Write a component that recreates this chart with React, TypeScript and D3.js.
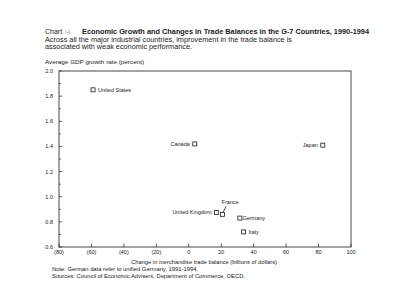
import React from "react";
import * as d3 from "d3";

const countries = ["United States", "Canada", "Japan", "United Kingdom", "France", "Germany", "Italy"];
const tradeChange = [-59, 3.7, 82.6, 17.1, 20.8, 31.5, 33.8];
const gdpGrowth = [1.85, 1.42, 1.41, 0.875, 0.86, 0.83, 0.72];
const labelSide = ["right", "left", "left", "left", "top", "right", "right"];

const xTicks = [-80, -60, -40, -20, 0, 20, 40, 60, 80, 100];
const yTicks = [0.6, 0.8, 1.0, 1.2, 1.4, 1.6, 1.8, 2.0];
const yMinor = [0.7, 0.9, 1.1, 1.3, 1.5, 1.7, 1.9];

const font = "'Liberation Sans', Arial, Helvetica, sans-serif";

export default function App() {
  const W = 400, H = 303;
  const left = 59, right = 351, top = 71, bottom = 247;
  const x = d3.scaleLinear().domain([-80, 100]).range([left, right]);
  const y = d3.scaleLinear().domain([0.6, 2.0]).range([bottom, top]);
  const fmtX = (v: number) => (v < 0 ? `(${Math.abs(v)})` : `${v}`);
  const sq = 4;
  const ink = "#1a1a1a";

  return (
    <svg width={W} height={H} style={{ position: "absolute", left: 0, top: 0, background: "#fff" }} fontFamily={font}>
      <rect x={0} y={0} width={W} height={H} fill="#fff" />
      <text x={45} y={34} fontSize={7} fill={ink}>Chart</text>
      <text x={65} y={34} fontSize={4.5} fill="#999">I-4</text>
      <text x={82} y={34} fontSize={7} fontWeight="bold" fill={ink} textLength={287} lengthAdjust="spacingAndGlyphs">
        Economic Growth and Changes in Trade Balances in the G-7 Countries, 1990-1994
      </text>
      <text x={45} y={42} fontSize={6.5} fill={ink} textLength={247} lengthAdjust="spacingAndGlyphs">
        Across all the major industrial countries, improvement in the trade balance is
      </text>
      <text x={45} y={49} fontSize={6.5} fill={ink} textLength={147} lengthAdjust="spacingAndGlyphs">
        associated with weak economic performance.
      </text>
      <text x={45} y={64} fontSize={5.5} fill={ink} textLength={99} lengthAdjust="spacingAndGlyphs">
        Average GDP growth rate (percent)
      </text>

      <rect x={left} y={top} width={right - left} height={bottom - top} fill="none" stroke="#333" strokeWidth={0.9} />

      {yTicks.map((t) => (
        <g key={"y" + t}>
          <line x1={left} x2={left + 3} y1={y(t)} y2={y(t)} stroke="#333" strokeWidth={0.8} />
          <text x={53} y={y(t) + 2} fontSize={5.5} textAnchor="end" fill={ink}>{t.toFixed(1)}</text>
        </g>
      ))}
      {yMinor.map((t) => (
        <line key={"ym" + t} x1={left} x2={left + 2} y1={y(t)} y2={y(t)} stroke="#333" strokeWidth={0.7} />
      ))}
      {xTicks.map((t) => (
        <g key={"x" + t}>
          <line x1={x(t)} x2={x(t)} y1={bottom} y2={bottom - 3.5} stroke="#333" strokeWidth={0.8} />
          <text x={x(t)} y={bottom + 7} fontSize={5.5} textAnchor="middle" fill={ink}>{fmtX(t)}</text>
        </g>
      ))}
      <text x={204} y={264} fontSize={5.5} textAnchor="middle" fill={ink} textLength={146} lengthAdjust="spacingAndGlyphs">
        Change in merchandise trade balance (billions of dollars)
      </text>
      <text x={52} y={271} fontSize={5.5} fill={ink} textLength={146} lengthAdjust="spacingAndGlyphs">
        Note: German data refer to unified Germany, 1991-1994.
      </text>
      <text x={52} y={278} fontSize={5.5} fill={ink} textLength={193} lengthAdjust="spacingAndGlyphs">
        Sources: Council of Economic Advisers, Department of Commerce, OECD.
      </text>

      {countries.map((c, i) => {
        const cx = x(tradeChange[i]);
        const cy = y(gdpGrowth[i]);
        const side = labelSide[i];
        let label: React.ReactNode = null;
        if (side === "right") {
          label = (
            <text x={cx + sq / 2 + (c === "Germany" ? 0.5 : 3)} y={cy + 2} fontSize={5.5} fill={ink}>{c}</text>
          );
        } else if (side === "left") {
          label = (
            <text x={cx - sq / 2 - 3} y={cy + 2} fontSize={5.5} textAnchor="end" fill={ink}>{c}</text>
          );
        } else {
          label = (
            <g>
              <line x1={cx + 0.5} y1={cy - sq / 2} x2={cx + 3.5} y2={cy - 8} stroke={ink} strokeWidth={0.8} />
              <text x={cx - 1} y={cy - 10} fontSize={5.5} fill={ink}>{c}</text>
            </g>
          );
        }
        return (
          <g key={c}>
            <rect x={cx - sq / 2} y={cy - sq / 2} width={sq} height={sq} fill="#fff" stroke={ink} strokeWidth={0.8} />
            {label}
          </g>
        );
      })}
    </svg>
  );
}
